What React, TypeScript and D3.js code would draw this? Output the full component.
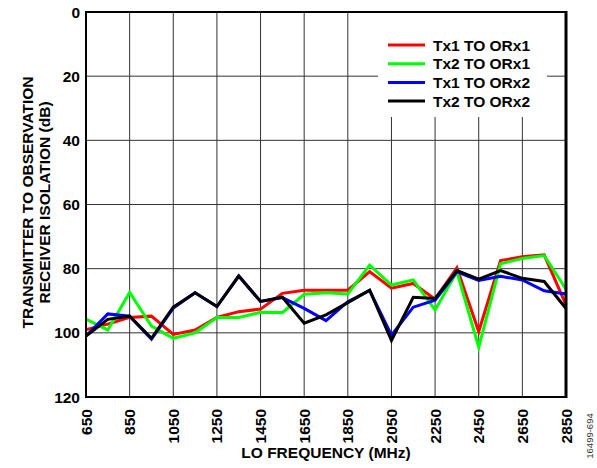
import * as d3 from "d3";

const freqs = [650, 750, 850, 950, 1050, 1150, 1250, 1350, 1450, 1550, 1650, 1750, 1850, 1950, 2050, 2150, 2250, 2350, 2450, 2550, 2650, 2750, 2850];
const xTicks = [650, 850, 1050, 1250, 1450, 1650, 1850, 2050, 2250, 2450, 2650, 2850];
const yTicks = [0, 20, 40, 60, 80, 100, 120];

const tx1Orx1 = [99, 97.3, 95.2, 94.8, 100.5, 99.1, 95.2, 93.4, 92.6, 87.7, 86.7, 86.7, 86.7, 80.9, 86.1, 84.6, 89.5, 79.7, 99.6, 77.5, 76.3, 75.7, 91.3];
const tx2Orx1 = [95.7, 99.1, 87.4, 97.9, 101.7, 100, 95.2, 95.2, 93.6, 93.7, 88, 87.5, 87.9, 78.9, 85.1, 83.5, 92.9, 81, 104.5, 78.5, 76.8, 75.9, 86.4];
const tx1Orx2 = [101, 94.1, 94.8, 102, 92.3, 87.5, 91.8, 82.3, 90.2, 89, 92.4, 96.2, 90.3, 86.8, 100.7, 92, 89.8, 81, 83.7, 82.4, 83.5, 86.9, 87.9];
const tx2Orx2 = [101, 95.8, 94.8, 101.7, 92, 87.5, 91.8, 82.3, 90.2, 88.9, 97, 94.4, 90.6, 86.7, 102.4, 88.9, 89.3, 80.6, 83.3, 80.6, 83, 84, 92.4];

const seriesNames = ["Tx1 TO ORx1", "Tx2 TO ORx1", "Tx1 TO ORx2", "Tx2 TO ORx2"];
const seriesColors = ["#ff0000", "#00ff00", "#0000ff", "#000000"];

const W = 597;
const H = 468;
const m = { left: 86, right: 566, top: 12, bottom: 397 };
const font = "'Liberation Sans', Arial, sans-serif";

export default function App() {
  const x = d3.scaleLinear().domain([650, 2850]).range([m.left, m.right]);
  const y = d3.scaleLinear().domain([0, 120]).range([m.top, m.bottom]);
  const line = d3
    .line<number>()
    .x((_, i) => x(freqs[i]))
    .y((d) => y(d));
  const allSeries = [tx1Orx1, tx2Orx1, tx1Orx2, tx2Orx2];

  return (
    <div style={{ position: "absolute", left: 0, top: 0 }}>
      <svg width={W} height={H} style={{ display: "block", background: "#fff" }}>
        {/* grid */}
        {xTicks.map((t) => (
          <line key={"gx" + t} x1={x(t)} x2={x(t)} y1={m.top} y2={m.bottom} stroke="#333" strokeWidth={1} />
        ))}
        {yTicks.map((t) => (
          <line key={"gy" + t} x1={m.left} x2={m.right} y1={y(t)} y2={y(t)} stroke="#333" strokeWidth={1} />
        ))}
        {/* legend background */}
        <rect x={378} y={m.top + 1} width={169} height={104} fill="#fff" />
        {/* series */}
        {allSeries.map((s, i) => (
          <path key={i} d={line(s) || ""} fill="none" stroke={seriesColors[i]} strokeWidth={3} strokeLinejoin="miter" />
        ))}
        {/* border */}
        <rect x={m.left} y={m.top} width={m.right - m.left} height={m.bottom - m.top} fill="none" stroke="#000" strokeWidth={2} />
        <line x1={m.right} x2={m.right} y1={m.top - 1} y2={m.bottom + 1} stroke="#000" strokeWidth={3} />
        {/* legend */}
        {seriesNames.map((n, i) => (
          <g key={n} transform={`translate(388, ${45 + i * 18.7})`}>
            <line x1={0} x2={37} y1={0} y2={0} stroke={seriesColors[i]} strokeWidth={3} />
            <text x={45} y={5.5} fontFamily={font} fontWeight="bold" fontSize={15.5} fill="#000">
              {n}
            </text>
          </g>
        ))}
        {/* y tick labels */}
        {yTicks.map((t) => (
          <text key={"yl" + t} x={80} y={y(t) + 5.5} textAnchor="end" fontFamily={font} fontWeight="bold" fontSize={15.5}>
            {t}
          </text>
        ))}
        {/* x tick labels */}
        {xTicks.map((t) => (
          <text
            key={"xl" + t}
            transform={`translate(${x(t) + 5.5}, 409) rotate(-90)`}
            textAnchor="end"
            fontFamily={font}
            fontWeight="bold"
            fontSize={15.5}
          >
            {t}
          </text>
        ))}
        {/* axis titles */}
        <text x={(m.left + m.right) / 2} y={458} textAnchor="middle" fontFamily={font} fontWeight="bold" fontSize={15.5}>
          LO FREQUENCY (MHz)
        </text>
        <g transform={`translate(0, ${(m.top + m.bottom) / 2 - 2}) rotate(-90)`}>
          <text x={0} y={33} textAnchor="middle" fontFamily={font} fontWeight="bold" fontSize={15.5}>
            TRANSMITTER TO OBSERVATION
          </text>
          <text x={0} y={50} textAnchor="middle" fontFamily={font} fontWeight="bold" fontSize={15.5}>
            RECEIVER ISOLATION (dB)
          </text>
        </g>
        <text transform="translate(593, 436) rotate(-90)" textAnchor="middle" fontFamily={font} fontSize={9.5} fill="#333">
          16499-694
        </text>
      </svg>
    </div>
  );
}
